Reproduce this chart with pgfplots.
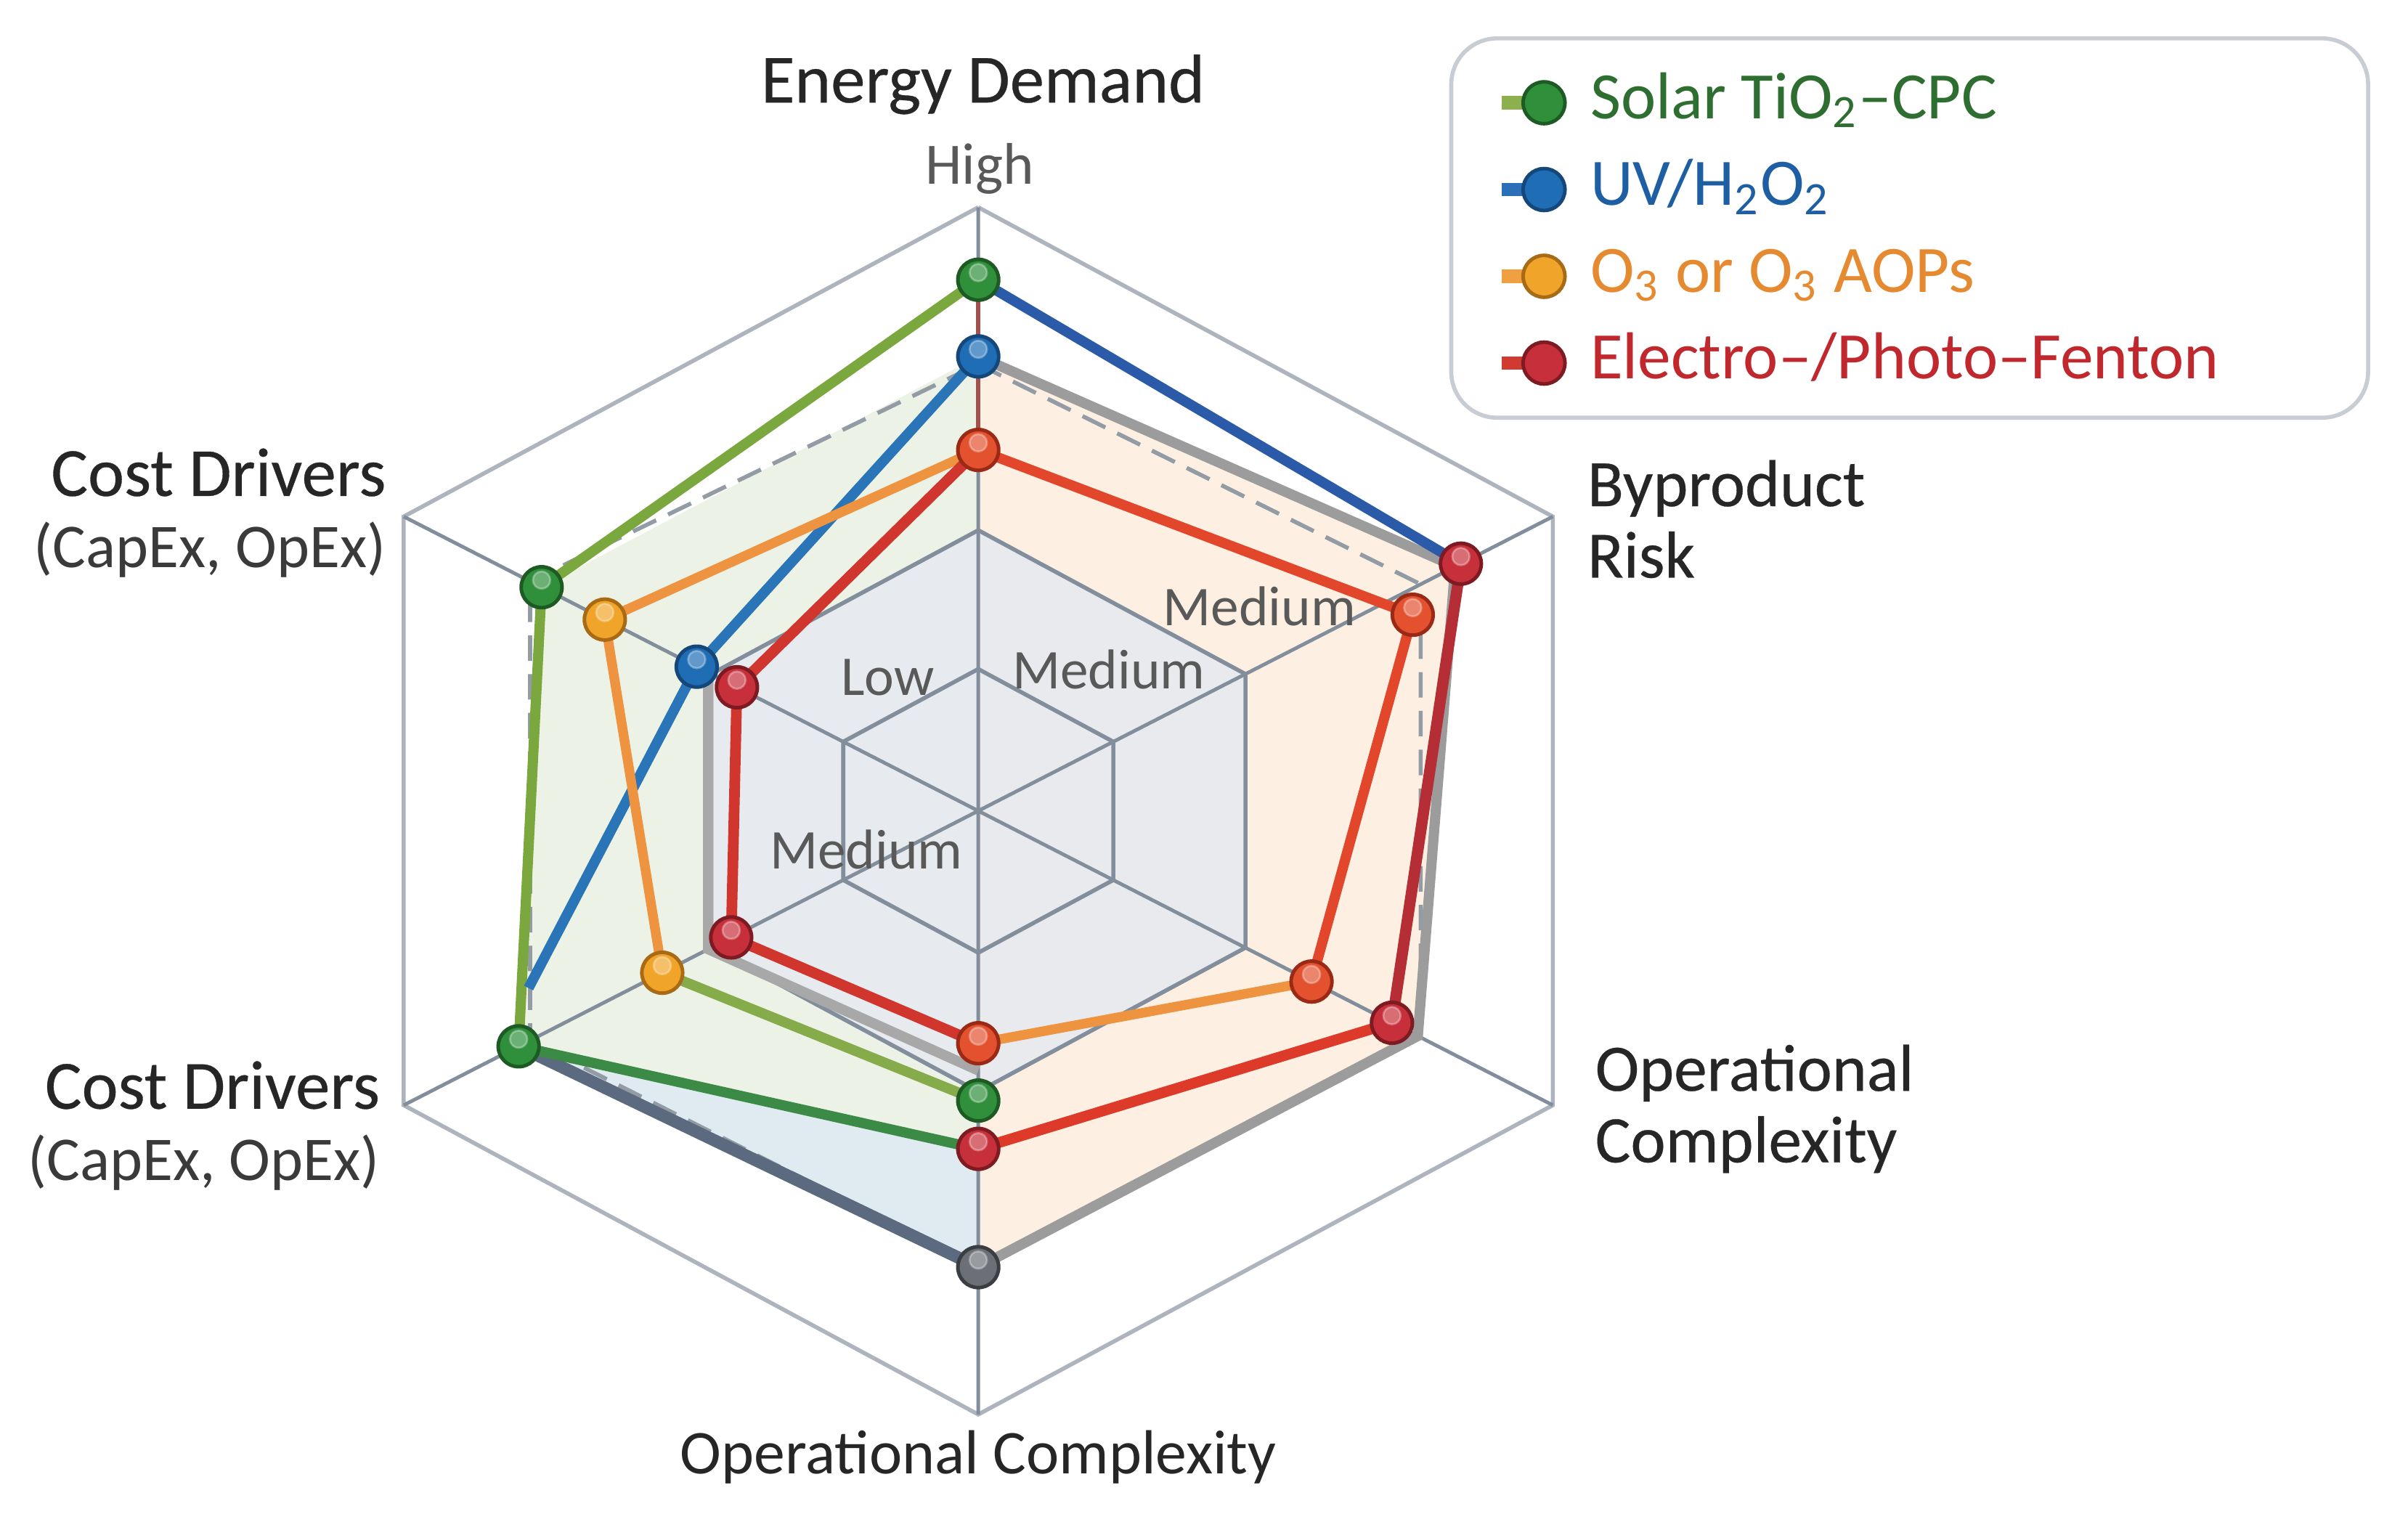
\documentclass[border=0pt]{standalone}
\usepackage{pgfplots}
\pgfplotsset{compat=1.18}
\usepackage{fontspec}
\setmainfont{Carlito}
\newfontfamily\labfont[FakeBold=0.35]{Carlito}
\definecolor{gridc}{HTML}{838E9C}
\definecolor{outerc}{HTML}{ADB4BE}
\definecolor{labc}{HTML}{262626}
\definecolor{tickc}{HTML}{595959}
\definecolor{subc}{HTML}{3A3A3A}
\definecolor{fpeach}{HTML}{FBE6CF}
\definecolor{fgreen}{HTML}{DDE8D2}
\definecolor{fblue}{HTML}{CCDDE7}
\definecolor{finner}{HTML}{E7EAEF}
\definecolor{dashc}{HTML}{939BA5}
\definecolor{grayl}{HTML}{9C9C9C}
\definecolor{grayl2}{HTML}{A8A8A8}
\definecolor{slate}{HTML}{5B6A7E}
\definecolor{thinred}{HTML}{A0524D}
\definecolor{greenl}{HTML}{7BA83E}
\definecolor{greend}{HTML}{3B8A45}
\definecolor{greenl2}{HTML}{86AB4A}
\definecolor{blued}{HTML}{2B5AA8}
\definecolor{bluel}{HTML}{2A74B8}
\definecolor{orangel}{HTML}{EE9340}
\definecolor{redor}{HTML}{E2472C}
\definecolor{redl}{HTML}{D0352E}
\definecolor{redl2}{HTML}{DD3A2A}
\definecolor{redd}{HTML}{B52D35}
\definecolor{mgreen}{HTML}{2F8F3A}
\definecolor{mgreenD}{HTML}{1E5A24}
\definecolor{mblue}{HTML}{1F6DB5}
\definecolor{mblueD}{HTML}{15477A}
\definecolor{morange}{HTML}{F0A52A}
\definecolor{morangeD}{HTML}{A86A14}
\definecolor{mredor}{HTML}{E3512F}
\definecolor{mredorD}{HTML}{9A2A16}
\definecolor{mred}{HTML}{C7303A}
\definecolor{mredD}{HTML}{7E1A22}
\definecolor{mgray}{HTML}{6C7076}
\definecolor{mgrayD}{HTML}{3A3D42}
\definecolor{legbox}{HTML}{C8CDD4}
\definecolor{lgline}{HTML}{8DB04E}
\definecolor{lgtext}{HTML}{2E6E30}
\definecolor{lbline}{HTML}{2A6FB8}
\definecolor{lbtext}{HTML}{1E5FA3}
\definecolor{loline}{HTML}{F0A040}
\definecolor{lotext}{HTML}{E58A30}
\definecolor{lrline}{HTML}{D03A30}
\definecolor{lrtext}{HTML}{C0282E}
\newcommand{\radarplot}[2]{\addplot[forget plot,#1] table[x expr={\thisrow{r}*432*cos(\thisrow{a})}, y expr={\thisrow{r}*(380*sin(\thisrow{a})+13*(sin(\thisrow{a}))^3)}, row sep=\\]{a r\\ #2};}
% marker: flat disc with dark rim, plus a soft highlight
\newcommand{\radarmarks}[3]{%
  \radarplot{only marks, mark=*, mark size=4pt, mark options={fill=#1, draw=#2, line width=0.7pt}}{#3}
  \radarplot{only marks, mark=*, mark size=1.7pt, color=white, opacity=0.3, mark options={yshift=1.4pt}}{#3}}
\pgfplotsset{ball legend/.style={legend image code/.code={\draw[mark repeat=2,mark phase=2,##1] plot coordinates {(0cm,0cm) (0.29cm,0cm)};}}}
\begin{document}
\begin{tikzpicture}
\begin{axis}[
  scale only axis, width=16.58cm, height=10.585cm,
  xmin=-637, xmax=931, ymin=-473, ymax=528,
  hide axis, clip=false,
  legend cell align=left,
  legend style={at={(axis cs:336,490)}, anchor=north west, draw=none, fill=none, inner sep=0pt,
    font=\fontsize{13}{15}\selectfont,
    nodes={text height=9.6pt, text depth=3.4pt, inner ysep=2pt, inner xsep=5pt}, row sep=0pt},
]
\coordinate (bbl) at (axis cs:-637,-473);
\coordinate (btr) at (axis cs:931,528);
% ---- fills
\radarplot{fill=fpeach, draw=none, fill opacity=0.6}{90 0.753\\ 30 0.83\\ -30 0.765\\ -90 0.756\\ 0 0\\}
\radarplot{fill=fgreen, draw=none, fill opacity=0.55}{90 0.753\\ 150 0.76\\ 210 0.80\\ -90 0.56\\ 0 0\\}
\radarplot{fill=fblue, draw=none, fill opacity=0.6}{210 0.80\\ -90 0.756\\ -90 0.56\\}
\radarplot{fill=finner, draw=none, fill opacity=0.9}{90 0.465\\ 30 0.465\\ -30 0.465\\ -90 0.465\\ 210 0.465\\ 150 0.465\\ 90 0.465\\}
% ---- grid
\radarplot{draw=outerc, line width=0.8pt}{90 1\\ 30 1\\ -30 1\\ -90 1\\ 210 1\\ 150 1\\ 90 1\\}
\radarplot{draw=gridc, line width=0.7pt}{0 0\\ 90 1\\ 0 0\\ 30 1\\ 0 0\\ -30 1\\ 0 0\\ -90 1\\ 0 0\\ 210 1\\ 0 0\\ 150 1\\}
\radarplot{draw=gridc, line width=0.8pt}{90 0.465\\ 30 0.465\\ -30 0.465\\ -90 0.465\\ 210 0.465\\ 150 0.465\\ 90 0.465\\}
\radarplot{draw=gridc, line width=0.8pt}{90 0.235\\ 30 0.235\\ -30 0.235\\ -90 0.235\\ 210 0.235\\ 150 0.235\\ 90 0.235\\}
\radarplot{draw=dashc, line width=0.8pt, dash pattern=on 5pt off 2.6pt}{90 0.74\\ 30 0.77\\ -30 0.77\\ -90 0.756\\ 210 0.78\\ 150 0.78\\ 90 0.74\\}
% ---- gray / slate outlines
\radarplot{draw=grayl, line width=2pt}{90 0.753\\ 30 0.83\\ -30 0.765\\ -90 0.756\\}
\radarplot{draw=grayl2, line width=2pt}{150 0.47\\ 210 0.47\\ -90 0.43\\}
\radarplot{draw=slate, line width=2.4pt}{210 0.80\\ -90 0.756\\}
\radarplot{draw=thinred, line width=0.8pt}{90 0.88\\ 90 0.598\\}
% ---- series lines
\radarplot{draw=greenl, line width=2pt}{90 0.88\\ 150 0.76\\ 210 0.80\\}
\radarplot{draw=greend, line width=2pt}{210 0.80\\ -90 0.56\\}
\radarplot{draw=greenl2, line width=2pt}{210 0.55\\ -90 0.48\\}
\radarplot{draw=blued, line width=2pt}{90 0.88\\ 30 0.84\\}
\radarplot{draw=bluel, line width=2pt}{90 0.753\\ 150 0.49\\ 204 0.742\\}
\radarplot{draw=orangel, line width=1.9pt}{90 0.598\\ 150 0.65\\ 210 0.55\\}
\radarplot{draw=orangel, line width=1.9pt}{-90 0.385\\ -30 0.58\\}
\radarplot{draw=redor, line width=2pt}{90 0.598\\ 27 0.735\\ -30 0.58\\}
\radarplot{draw=redl, line width=2.1pt}{90 0.598\\ 150 0.42\\ 210 0.43\\ -90 0.385\\}
\radarplot{draw=redl2, line width=2.1pt}{-90 0.56\\ -30 0.72\\}
\radarplot{draw=redd, line width=2.2pt}{-30 0.72\\ 30 0.84\\}
% ---- markers
\radarmarks{mgreen}{mgreenD}{90 0.88\\ 150 0.76\\ 210 0.80\\ -90 0.48\\}
\radarmarks{mblue}{mblueD}{90 0.753\\ 150 0.49\\}
\radarmarks{morange}{morangeD}{150 0.65\\ 210 0.55\\}
\radarmarks{mredor}{mredorD}{90 0.598\\ 27 0.735\\ -30 0.58\\ -90 0.385\\}
\radarmarks{mred}{mredD}{30 0.84\\ -30 0.72\\ -90 0.56\\ 210 0.43\\ 150 0.42\\}
\radarmarks{mgray}{mgrayD}{-90 0.756\\}
% ---- labels
\node[font=\labfont\fontsize{13.5}{16}\selectfont, text=labc] at (axis cs:3,473) {Energy Demand};
\node[font=\fontsize{11.5}{14}\selectfont, text=tickc] at (axis cs:1,418) {High};
\node[font=\labfont\fontsize{13}{14}\selectfont, text=labc, align=left, anchor=west] at (axis cs:385,190) {Byproduct\\Risk};
\node[font=\labfont\fontsize{13}{14}\selectfont, text=labc, align=left, anchor=west] at (axis cs:390,-194) {Operational\\Complexity};
\node[font=\fontsize{12.2}{14}\selectfont, text=labc] at (axis cs:0,-421) {Operational Complexity};
\node[text=labc, align=right, anchor=east] at (axis cs:-374,194) {{\labfont\fontsize{13.5}{14}\selectfont Cost Drivers}\\[2pt]{\fontsize{12.2}{14}\selectfont\color{subc}(CapEx, OpEx)}};
\node[text=labc, align=right, anchor=east] at (axis cs:-378,-205) {{\labfont\fontsize{13.5}{14}\selectfont Cost Drivers}\\[2pt]{\fontsize{12.2}{14}\selectfont\color{subc}(CapEx, OpEx)}};
\node[font=\fontsize{11}{13}\selectfont, text=tickc] at (axis cs:-59,87) {Low};
\node[font=\fontsize{11}{13}\selectfont, text=tickc] at (axis cs:85,92) {Medium};
\node[font=\fontsize{11}{13}\selectfont, text=tickc] at (axis cs:183,133) {Medium};
\node[font=\fontsize{11}{13}\selectfont, text=tickc] at (axis cs:-73,-25) {Medium};
% ---- legend
\draw[rounded corners=9pt, draw=legbox, line width=0.8pt, fill=white] (axis cs:308,503) rectangle (axis cs:905,256);
\addlegendimage{ball legend, draw=lgline, line width=2.6pt, mark=*, mark size=4.1pt, mark options={fill=mgreen, draw=mgreenD, line width=0.7pt}}
\addlegendentry{\textcolor{lgtext}{Solar TiO\textsubscript{2}--CPC}}
\addlegendimage{ball legend, draw=lbline, line width=2.6pt, mark=*, mark size=4.1pt, mark options={fill=mblue, draw=mblueD, line width=0.7pt}}
\addlegendentry{\textcolor{lbtext}{UV/H\textsubscript{2}O\textsubscript{2}}}
\addlegendimage{ball legend, draw=loline, line width=2.6pt, mark=*, mark size=4.1pt, mark options={fill=morange, draw=morangeD, line width=0.7pt}}
\addlegendentry{\textcolor{lotext}{O\textsubscript{3} or O\textsubscript{3} AOPs}}
\addlegendimage{ball legend, draw=lrline, line width=2.6pt, mark=*, mark size=4.1pt, mark options={fill=mred, draw=mredD, line width=0.7pt}}
\addlegendentry{\textcolor{lrtext}{Electro--/Photo--Fenton}}
\end{axis}
\pgfresetboundingbox
\path (bbl) rectangle (btr);
\end{tikzpicture}
\end{document}
